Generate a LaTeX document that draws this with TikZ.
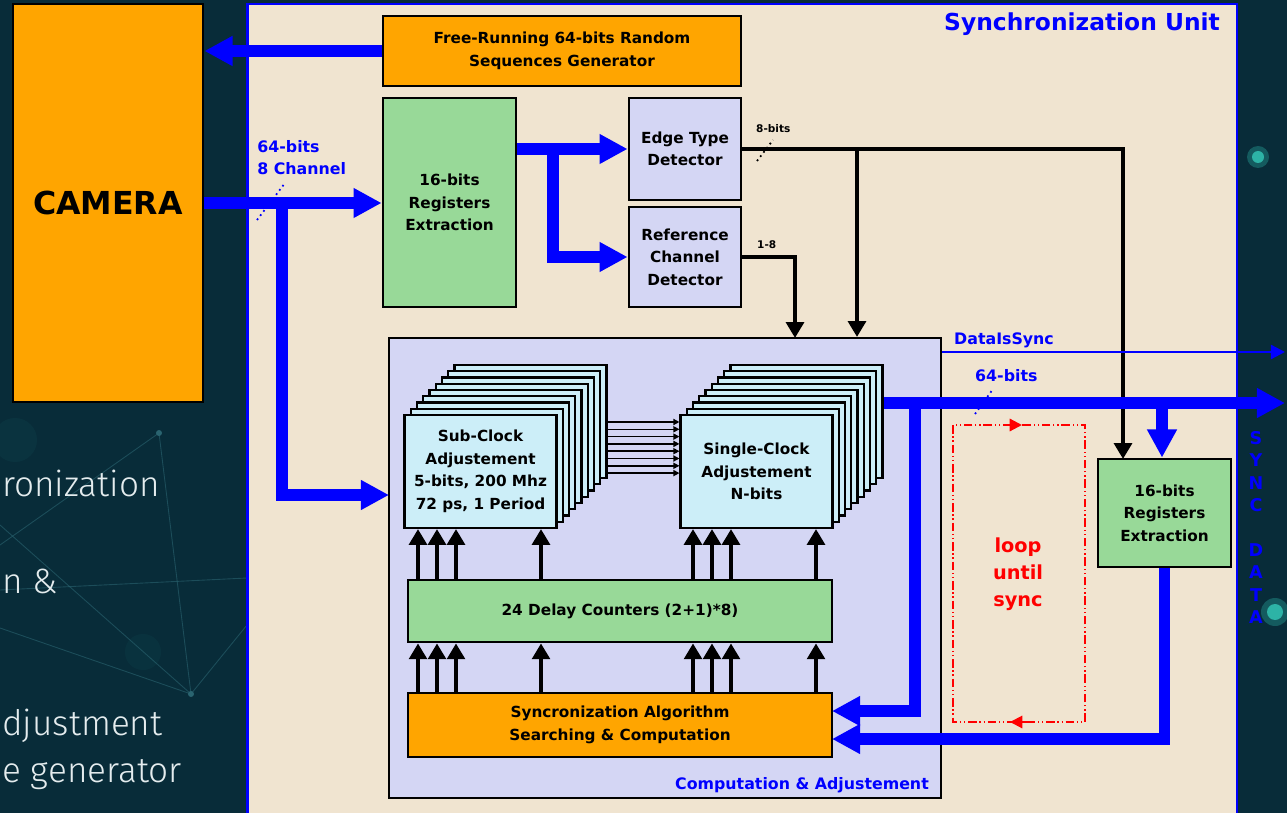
\documentclass[tikz,border=0pt]{standalone}
\usepackage{fontspec}
\setmainfont{DejaVu Sans}
\newfontfamily\slidefont{Fira Sans Light}
\usetikzlibrary{calc,arrows.meta}
\definecolor{slidebg}{HTML}{082C39}
\definecolor{netline}{HTML}{2A6470}
\definecolor{glowteal}{HTML}{2DB3A6}
\definecolor{unitbg}{HTML}{F0E4D0}
\definecolor{camorange}{HTML}{FFA500}
\definecolor{reggreen}{HTML}{98D998}
\definecolor{detlav}{HTML}{D4D6F4}
\definecolor{adjcyan}{HTML}{CCEEF8}
\definecolor{busblue}{HTML}{0000FF}
\definecolor{slidetext}{HTML}{E4ECEE}
\newcommand{\blkfont}{\fontsize{8.7}{12.8}\selectfont\bfseries}
\tikzset{
  block/.style={rectangle,draw,line width=1.6pt,inner sep=0,align=center,font=\blkfont},
  orangeblock/.style={block,fill=camorange},
  greenblock/.style={block,fill=reggreen},
  lavblock/.style={block,fill=detlav},
  % one sheet of a stacked adjustment bank
  layer/.style={block,line width=1.2pt,fill=adjcyan,minimum width=3.04cm,minimum height=2.26cm},
  bus/.style={draw=busblue,line width=6.8pt,-{Triangle[width=16pt,length=16pt]}},
  sig/.style={line width=2.8pt,-{Triangle[width=10pt,length=9pt]}},
  wire/.style={line width=0.8pt,-{Triangle[width=3.5pt,length=3.5pt]}},
  thinbus/.style={draw=busblue,line width=1.2pt,-{Triangle[width=8pt,length=8pt]}},
  slash/.style={line width=1pt,dotted},
  bluelab/.style={text=busblue,font=\fontsize{9}{12.8}\selectfont\bfseries},
  smalllab/.style={font=\fontsize{6}{7}\selectfont\bfseries},
  loopline/.style={draw=red,line width=1.2pt,dash pattern=on 5pt off 1.5pt on 0.8pt off 1.5pt on 0.8pt off 1.5pt},
  looptip/.style={red,line width=1.2pt,-{Triangle[width=7pt,length=7pt]}},
  slidelab/.style={text=slidetext,font=\slidefont\fontsize{20}{24}\selectfont,inner sep=0},
}
\begin{document}
\begin{tikzpicture}[x=0.02cm,y=-0.02cm]
  \useasboundingbox (0,0) rectangle (1287,813);
  % slide background
  \fill[slidebg] (0,0) rectangle (1287,813);
  \fill[glowteal,opacity=0.06] (15,440) circle (22);
  \fill[glowteal,opacity=0.05] (143,652) circle (18);
  \foreach \ax/\ay/\bx/\by in {159/433/191/694, 159/433/0/545, 0/590/247/578, 0/525/191/694, 0/628/191/694, 191/694/247/625}
    \draw[netline,opacity=0.6,line width=0.5pt] (\ax,\ay) -- (\bx,\by);
  \fill[netline] (159,433) circle (3);
  \fill[netline] (191,694) circle (3);
  \fill[glowteal,opacity=0.35] (1258,157) circle (11);
  \fill[glowteal] (1258,157) circle (6);
  \fill[glowteal,opacity=0.35] (1275,612) circle (14);
  \fill[glowteal] (1275,612) circle (8);
  \node[slidelab,anchor=base west] (frag1) at (2,497) {ronization};
  \node[slidelab,anchor=base west] (frag2) at (2,593) {n \&};
  \node[slidelab,anchor=base west] (frag3) at (2,735) {djustment};
  \node[slidelab,anchor=base west] (frag4) at (2,782) {e generator};

  % camera and synchronization unit
  \node[orangeblock,minimum width=3.8cm,minimum height=7.96cm,font=\fontsize{18}{20}\selectfont\bfseries] (cam) at (108,203) {CAMERA};
  \node[rectangle,draw=busblue,line width=1.6pt,fill=unitbg,minimum width=19.8cm,minimum height=16.52cm] (unit) at (742,417) {};
  \node[bluelab,font=\fontsize{13.3}{15}\selectfont\bfseries,anchor=base east] (unitlab) at (1226,31) {Synchronization Unit};

  % upper blocks
  \node[orangeblock,minimum width=7.16cm,minimum height=1.4cm] (gen) at (562,51) {Free-Running 64-bits Random\\Sequences Generator};
  \node[greenblock,minimum width=2.66cm,minimum height=4.18cm] (regin) at (449.5,202.5) {16-bits\\Registers\\Extraction};
  \node[lavblock,minimum width=2.24cm,minimum height=2.04cm] (edge) at (685,149) {Edge Type\\Detector};
  \node[lavblock,minimum width=2.24cm,minimum height=2.0cm] (refch) at (685,257) {Reference\\Channel\\Detector};

  % computation and adjustement
  \node[rectangle,draw,line width=1.2pt,fill=detlav,minimum width=11.04cm,minimum height=9.2cm] (comp) at (665,568) {};
  \node[bluelab,anchor=base east] (complab) at (935,789) {Computation \& Adjustement};
  \foreach \k in {8,...,1} {
    \node[layer] (sub\k) at ({480.5+6.25*\k},{471.5-6.25*\k}) {};
  }
  \node[layer] (sub0) at (480.5,471.5) {Sub-Clock\\Adjustement\\5-bits, 200 Mhz\\72 ps, 1 Period};
  \foreach \k in {8,...,1} {
    \node[layer] (sgl\k) at ({756.5+6.25*\k},{471.5-6.25*\k}) {};
  }
  \node[layer] (sgl0) at (756.5,471.5) {Single-Clock\\Adjustement\\N-bits};
  \foreach \i in {0,...,7} {
    \draw[wire] (sub8.east |- 0,{422+7.3*\i}) -- (sgl0.west |- 0,{422+7.3*\i});
  }
  \node[greenblock,minimum width=8.48cm,minimum height=1.24cm] (delay) at (620,611) {24 Delay Counters (2+1)*8)};
  \node[orangeblock,minimum width=8.48cm,minimum height=1.28cm] (algo) at (620,725) {Syncronization Algorithm\\Searching \& Computation};
  \foreach \x in {418,437,456,541,693,712,731,816} {
    \draw[sig] (algo.north -| \x,0) -- (delay.south -| \x,0);
    \draw[sig] (delay.north -| \x,0) -- (sub0.south -| \x,0);
  }

  % output side
  \node[greenblock,minimum width=2.66cm,minimum height=2.16cm] (regout) at (1164.5,513) {16-bits\\Registers\\Extraction};
  \draw[loopline] (953,425) rectangle (1085,722);
  \draw[looptip] (1004,425) -- (1022,425);
  \draw[looptip] (1030,722) -- (1010,722);
  \node[text=red,font=\fontsize{11}{15.5}\selectfont\bfseries,align=center] (looplab) at (1018,574) {loop\\until\\sync};
  \node[text=busblue,font=\fontsize{10}{12.75}\selectfont\bfseries,align=center,inner sep=0,anchor=north] (synclab) at (1256,431) {S\\Y\\N\\C\\[12.75pt]D\\A\\T\\A};

  % camera data path
  \draw[bus] (cam.east) -- (cam.east -| regin.west);
  \coordinate (tap1) at (282,203);
  \coordinate (subin) at (389,495);
  \draw[bus] (tap1) |- (subin);
  \node[bluelab,align=left,anchor=north west,inner sep=0] (camlab) at (257,140) {64-bits\\8 Channel};
  \draw[slash,busblue] (257,220) -- (285,183);
  \draw[bus] (gen.west) -- (gen.west -| cam.east);

  % detectors
  \draw[bus] (regin.east |- edge.west) -- (edge.west);
  \coordinate (tap2) at (553,149);
  \draw[bus] (tap2) |- (refch.west);
  \coordinate (etin) at (1123,459);
  \draw[sig] (edge.east) -| (etin);
  \coordinate (tap3) at (857,149);
  \draw[sig] (tap3) -- (tap3 |- comp.north);
  \coordinate (rcin) at (795,338);
  \draw[sig] (refch.east) -| (rcin);
  \node[smalllab,anchor=base west] (etlab) at (750,133) {8-bits};
  \draw[slash] (757,161) -- (773,140);
  \node[smalllab,anchor=base west] (rclab) at (751,249) {1-8};

  % synchronized output
  \coordinate (outend) at (1285,403);
  \draw[bus] (sgl8.east |- outend) -- (outend);
  \coordinate (dsend) at (1285,352);
  \draw[thinbus] (comp.east |- dsend) -- (dsend);
  \node[bluelab,anchor=base west] (dslab) at (948,345) {DataIsSync};
  \node[bluelab,anchor=base west] (outlab) at (969,382) {64-bits};
  \draw[slash,busblue] (975,414) -- (993,389);
  \coordinate (tap4) at (915,403);
  \coordinate (algin1) at (832,711);
  \draw[bus] (tap4) |- (algin1);
  \coordinate (tap5) at (1162,403);
  \draw[bus] (tap5) -- (tap5 |- regout.north);
  \coordinate (algin2) at (832,739);
  \draw[bus] (regout.south) |- (algin2);
\end{tikzpicture}
\end{document}
